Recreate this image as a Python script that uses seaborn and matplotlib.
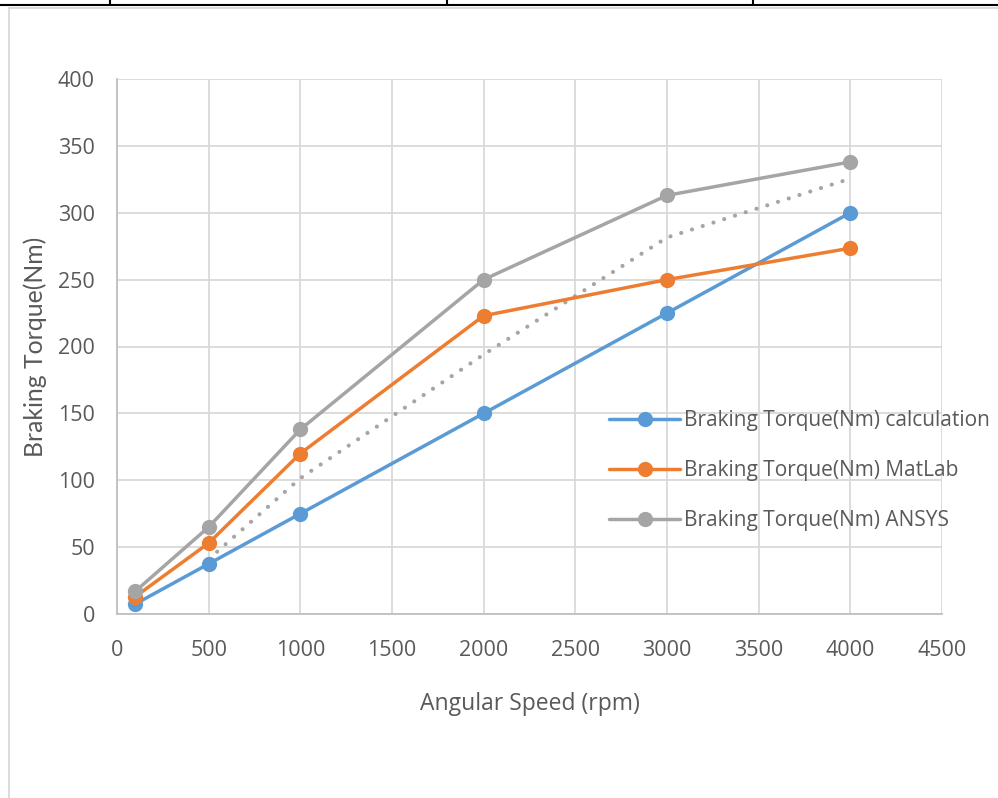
import matplotlib
matplotlib.use("Agg")
import matplotlib.pyplot as plt
from matplotlib.lines import Line2D
import pandas as pd
import seaborn as sns

# Angular speed samples (rpm)
speed_rpm = [100, 500, 1000, 2000, 3000, 4000]

# Braking torque results (Nm)
torque_calculation = [7.5, 37.5, 75, 150, 225, 300]
torque_matlab = [13, 53, 120, 223, 250, 273.5]
torque_ansys = [17, 65, 138, 250, 313, 338]

# Two-period moving-average trendline of the ANSYS series
trend_speed = [500, 1000, 2000, 3000, 4000]
trend_ansys = [41, 101.5, 194, 281.5, 325.5]

series_names = [
    "Braking Torque(Nm) calculation",
    "Braking Torque(Nm) MatLab",
    "Braking Torque(Nm) ANSYS",
]
series_colors = ["#5B9BD5", "#ED7D31", "#A5A5A5"]

x_ticks = [0, 500, 1000, 1500, 2000, 2500, 3000, 3500, 4000, 4500]
y_ticks = [0, 50, 100, 150, 200, 250, 300, 350, 400]

frames = []
for name, vals in zip(series_names, [torque_calculation, torque_matlab, torque_ansys]):
    frames.append(pd.DataFrame({"speed": speed_rpm, "torque": vals, "series": name}))
df = pd.concat(frames, ignore_index=True)

sns.set_theme(style="white")
plt.rcParams["font.family"] = ["Open Sans", "DejaVu Sans"]

fig = plt.figure(figsize=(9.98, 7.98), dpi=100)
W, H = 998, 798
ax = fig.add_axes([117 / W, (H - 614) / H, (942 - 117) / W, (614 - 79) / H])

grid_c = "#D9D9D9"
ax.set_axisbelow(True)
ax.grid(True, color=grid_c, linewidth=1.3)

# Trendline drawn first so the series sit on top
ax.plot(trend_speed, trend_ansys, linestyle=(0, (0.01, 2.7)), color="#A5A5A5",
        linewidth=3.0, dash_capstyle="round", zorder=2)

sns.lineplot(data=df, x="speed", y="torque", hue="series", palette=series_colors,
             hue_order=series_names, marker="o", markersize=11, markeredgewidth=0,
             linewidth=2.5, ax=ax, legend=False, zorder=3)

ax.set_xlim(0, 4500)
ax.set_ylim(0, 400)
ax.set_xticks(x_ticks)
ax.set_yticks(y_ticks)
ax.tick_params(axis="both", length=0, labelsize=15.5, labelcolor="#595959")
ax.tick_params(axis="x", pad=19)
ax.tick_params(axis="y", pad=16)

for s in ["top", "right"]:
    ax.spines[s].set_visible(False)
for s in ["left", "bottom"]:
    ax.spines[s].set_color("#BFBFBF")
    ax.spines[s].set_linewidth(1.3)

ax.set_xlabel("Angular Speed (rpm)", fontsize=16.5, color="#595959", labelpad=22)
ax.set_ylabel("Braking Torque(Nm)", fontsize=17.8, color="#595959",
              family=["Lato", "DejaVu Sans"])
ax.yaxis.set_label_coords((47 - 117) / (942 - 117), 0.5)

handles = [Line2D([0], [0], color=c, linewidth=2.5, marker="o", markersize=11,
                  markeredgewidth=0) for c in series_colors]
fig.legend(handles, series_names, loc="upper left",
           bbox_to_anchor=(601 / W, 1 - 402 / H), frameon=False, fontsize=15,
           labelcolor="#595959", handlelength=3.4, handletextpad=0.2,
           labelspacing=1.38, borderaxespad=0)

# Surrounding page borders
fig.add_artist(Line2D([0, 1], [1 - 5 / H, 1 - 5 / H], color="black", linewidth=1.5,
                      transform=fig.transFigure))
for xp in [110, 447, 753]:
    fig.add_artist(Line2D([xp / W, xp / W], [1, 1 - 5 / H], color="black",
                          linewidth=1.5, transform=fig.transFigure))
fig.add_artist(Line2D([9 / W, 1], [1 - 8 / H, 1 - 8 / H], color="#D9D9D9",
                      linewidth=1.3, transform=fig.transFigure))
fig.add_artist(Line2D([9 / W, 9 / W], [0, 1 - 8 / H], color="#D9D9D9",
                      linewidth=1.3, transform=fig.transFigure))

fig.savefig("out.png", dpi=100)
